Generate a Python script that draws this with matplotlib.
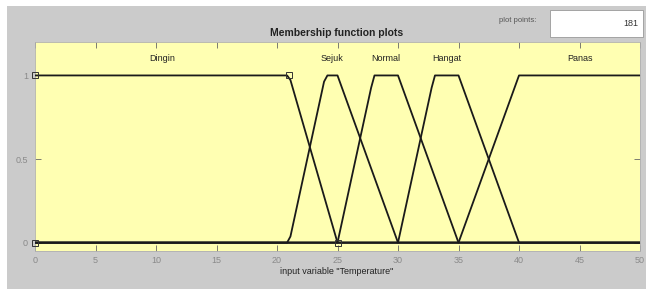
import matplotlib
matplotlib.use("Agg")
import matplotlib.pyplot as plt
from matplotlib.patches import Rectangle
import numpy as np

plt.rcParams['font.family'] = ['Liberation Sans Narrow', 'Liberation Sans', 'DejaVu Sans']

# Membership functions (trapezoids) for input variable "Temperature"
mf_names = ["Dingin", "Sejuk", "Normal", "Hangat", "Panas"]
mf_params = [
    [0, 0, 21, 25],
    [21, 24, 25, 30],
    [25, 28, 30, 35],
    [30, 33, 35, 40],
    [35, 40, 50, 50],
]
x_range = [0, 50]
n_points = 181
xticks = [0, 5, 10, 15, 20, 25, 30, 35, 40, 45, 50]
yticks = [0, 0.5, 1]
ytick_labels = ["0", "0.5", "1"]


def trapmf(x, p):
    a, b, c, d = p
    y = np.ones_like(x)
    if b > a:
        y = np.minimum(y, (x - a) / (b - a))
    else:
        y = np.where(x < a, 0.0, y)
    if d > c:
        y = np.minimum(y, (d - x) / (d - c))
    else:
        y = np.where(x > d, 0.0, y)
    return np.clip(y, 0, 1)


W, H = 646, 289
fig = plt.figure(figsize=(W / 100, H / 100), dpi=100, facecolor="white")
# grey panel
fig.patches.append(Rectangle((7 / W, 0), 1 - 7 / W, 1 - 6 / H, transform=fig.transFigure,
                             facecolor="#cbcbcb", edgecolor="none", zorder=-10))

ax = fig.add_axes([35 / W, 38 / H, (640 - 35) / W, (251 - 42) / H])
ax.set_facecolor("#ffffb2")
x = np.linspace(x_range[0], x_range[1], n_points)
for name, p in zip(mf_names, mf_params):
    ax.plot(x, trapmf(x, p), color="#1a1a1a", lw=1.3, zorder=3)
    ax.text((p[1] + p[2]) / 2, 1.1, name, ha="center", va="center", fontsize=6.5, color="#222222")

# selected MF markers (Dingin)
p0 = mf_params[0]
ax.plot([p0[0], p0[1], p0[2], p0[3]], [0, 1, 1, 0], ls="none", marker="s", ms=4,
        mfc="none", mec="#333333", mew=0.7, zorder=4, clip_on=False)

ax.set_xlim(x_range)
ax.set_ylim(-0.05, 1.2)
ax.set_xticks(xticks)
ax.set_yticks(yticks)
ax.set_yticklabels(ytick_labels)
ax.tick_params(direction="in", top=True, right=True, length=4, width=0.6, color="#666666",
               labelsize=6.5, labelcolor="#8a8a8a")
ax.tick_params(axis="x", pad=3.5)
ax.tick_params(axis="y", pad=5)
for s in ax.spines.values():
    s.set_color("#b0b0b0")
    s.set_linewidth(0.6)

fig.text(337 / W, 1 - 33 / H, "Membership function plots", ha="center", va="center",
         fontsize=7.5, fontweight="bold", color="#222222")
fig.text(337 / W, 1 - 272 / H, 'input variable "Temperature"', ha="center", va="center",
         fontsize=6.5, color="#222222")
fig.text(518 / W, 1 - 20 / H, "plot points:", ha="center", va="center", fontsize=5.5, color="#555555")
fig.patches.append(Rectangle((550 / W, 1 - 37 / H), 93 / W, 27 / H, transform=fig.transFigure,
                             facecolor="white", edgecolor="#999999", lw=0.6, zorder=-5))
fig.text(638 / W, 1 - 24 / H, "181", ha="right", va="center", fontsize=6.5, color="#333333")

fig.savefig("out.png", dpi=100, facecolor=fig.get_facecolor())
